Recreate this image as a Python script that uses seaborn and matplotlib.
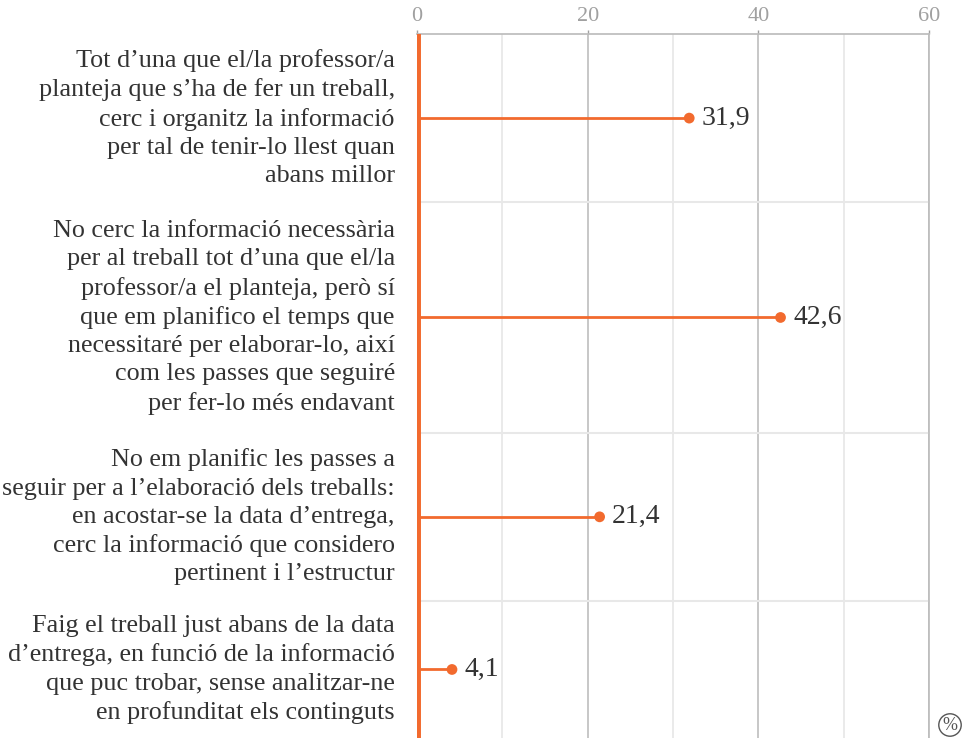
import numpy as np
import pandas as pd
import matplotlib
matplotlib.use("Agg")
import matplotlib.pyplot as plt
import seaborn as sns

# answers (one string per line of label) and percentages
labels = [
    "Tot d\u2019una que el/la professor/a\nplanteja que s\u2019ha de fer un treball,\ncerc i organitz la informació\nper tal de tenir-lo llest quan\nabans millor",
    "No cerc la informació necessària\nper al treball tot d\u2019una que el/la\nprofessor/a el planteja, però sí\nque em planifico el temps que\nnecessitaré per elaborar-lo, així\ncom les passes que seguiré\nper fer-lo més endavant",
    "No em planific les passes a\nseguir per a l\u2019elaboració dels treballs:\nen acostar-se la data d\u2019entrega,\ncerc la informació que considero\npertinent i l\u2019estructur",
    "Faig el treball just abans de la data\nd\u2019entrega, en funció de la informació\nque puc trobar, sense analitzar-ne\nen profunditat els continguts",
]
values = [31.9, 42.6, 21.4, 4.1]
xticks = [0, 20, 40, 60]

orange = "#F26A2E"

sns.set_theme(style="white")
plt.rcParams["font.family"] = ["Liberation Serif", "DejaVu Serif"]

# each band is as tall as its label (in lines), dot at band centre
lines = np.array([lab.count("\n") + 1 for lab in labels], dtype=float) + 0.4
edges = np.concatenate([[0], np.cumsum(lines)])
centers = (edges[:-1] + edges[1:]) / 2

df = pd.DataFrame({"label": labels, "value": values, "y": centers})

fig = plt.figure(figsize=(9.64, 7.38), dpi=100)
ax = fig.add_axes([417 / 964, 0, 512 / 964, 1 - 34 / 738])

ax.set_xlim(0, 60)
ax.set_ylim(edges[-1], 0)

# grid
for x in range(10, 61, 10):
    ax.axvline(x, color="#bdbdbd" if x % 20 == 0 else "#e6e6e6", lw=1.2, zorder=0)
for e in edges[1:-1]:
    ax.axhline(e, color="#e8e8e8", lw=1.5, zorder=0)

ax.hlines(df["y"], 0, df["value"], color=orange, lw=2, zorder=2)
sns.scatterplot(data=df, x="value", y="y", color=orange, s=60, edgecolor="none",
                zorder=3, ax=ax, legend=False)
ax.axvline(0, color=orange, lw=5, zorder=4)

for v, y in zip(df["value"], df["y"]):
    ax.annotate(f"{v:.1f}".replace(".", ","), (v, y), xytext=(9, 0),
                textcoords="offset points", ha="left", va="center",
                fontsize=20, color="#333333")

for lab, y in zip(df["label"], df["y"]):
    ax.annotate(lab, (0, y), xytext=(-16, 0), textcoords="offset points",
                ha="right", va="center", multialignment="right",
                fontsize=18.8, color="#333333", linespacing=1.36,
                annotation_clip=False)

ax.xaxis.tick_top()
ax.set_xticks(xticks)
ax.set_xticklabels([str(t) for t in xticks])
ax.tick_params(axis="x", colors="#a0a0a0", labelsize=16, length=3, width=1, pad=3)
ax.set_yticks([])
ax.set_xlabel("")
ax.set_ylabel("")
for s in ["left", "bottom"]:
    ax.spines[s].set_visible(False)
ax.spines["top"].set_color("#bdbdbd")
ax.spines["right"].set_color("#bdbdbd")

fig.text(950 / 964, 1 - 725 / 738, "%", ha="center", va="center", fontsize=13,
         color="#555555",
         bbox=dict(boxstyle="circle,pad=0.15", fc="white", ec="#555555", lw=1))

fig.savefig("out.png", dpi=100)
